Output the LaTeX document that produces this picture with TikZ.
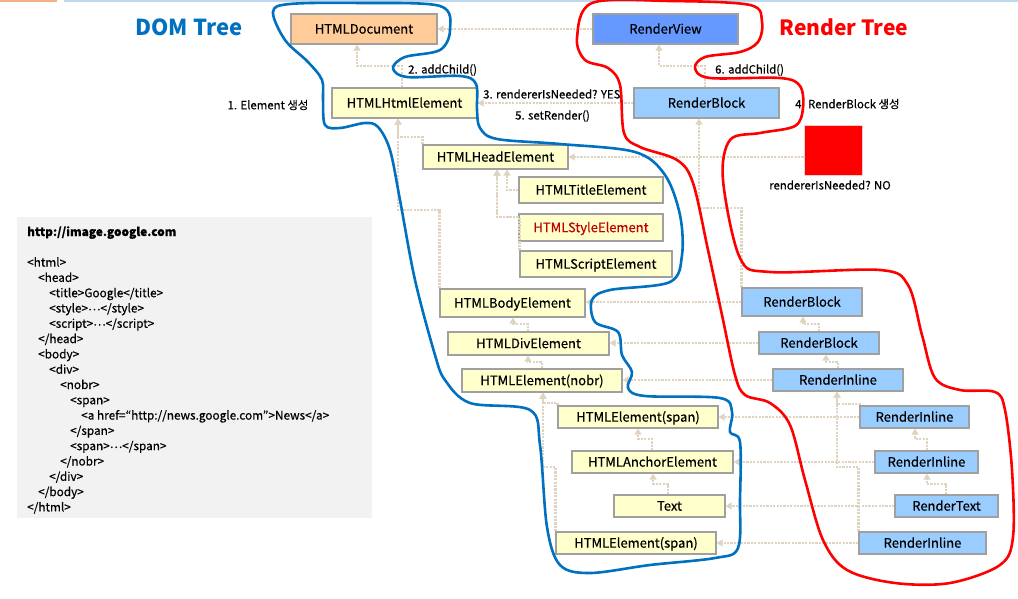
\documentclass[tikz,border=0pt]{standalone}
\usepackage{fontspec}
\setmainfont{Noto Sans CJK KR}
\newfontfamily\medfont[FakeBold=0.5]{Noto Sans CJK KR}
\usetikzlibrary{arrows.meta}
\definecolor{conncol}{RGB}{222,212,192}
\definecolor{domfill}{RGB}{255,255,204}
\definecolor{docfill}{RGB}{255,204,153}
\definecolor{viewfill}{RGB}{102,153,255}
\definecolor{rfill}{RGB}{153,204,255}
\definecolor{boxline}{RGB}{160,160,160}
\definecolor{domblue}{RGB}{0,112,192}
\definecolor{stylered}{RGB}{192,0,0}
\definecolor{codebg}{RGB}{242,242,242}
\definecolor{hdrorange}{RGB}{244,177,131}
\definecolor{hdrblue}{RGB}{189,215,238}
\definecolor{sqborder}{RGB}{244,204,204}
\tikzset{
  box/.style={draw=boxline, line width=1.2pt, inner sep=0pt, text height=9.3pt, text depth=0pt,
    font=\medfont\fontsize{13}{15}\selectfont},
  dombox/.style={box, fill=domfill},
  rbox/.style={box, fill=rfill},
  conn/.style={draw=conncol, line width=2.4pt, dash pattern=on 2.2pt off 1.2pt,
    -{Triangle[length=6pt,width=7pt]}},
  lbl/.style={inner sep=0pt, font=\medfont\fontsize{11.4}{13}\selectfont},
  ttl/.style={inner sep=0pt, font=\fontsize{22}{24}\selectfont\bfseries},
  outline/.style={line width=2.6pt, line join=round}
}
\begin{document}
\begin{tikzpicture}[x=1pt,y=-1pt]
\useasboundingbox (0,0) rectangle (1018,599);
% header decoration
\draw[hdrorange, line width=2pt] (0,1) -- (57,1);
\draw[hdrblue, line width=1.5pt] (64,1) -- (1018,1);

% titles
\node[ttl, text=domblue] (domtitle) at (189,27) {DOM Tree};
\node[ttl, text=red, font=\fontsize{21}{23}\selectfont\bfseries] (rtitle) at (844,27) {Render Tree};

% DOM nodes
\node[box, fill=docfill, minimum width=146pt, minimum height=30pt] (doc) at (364,29) {HTMLDocument};
\node[dombox, minimum width=145pt, minimum height=30pt] (html) at (404.5,103) {HTMLHtmlElement};
\node[dombox, minimum width=145pt, minimum height=24pt] (head) at (495.5,157) {HTMLHeadElement};
\node[dombox, minimum width=144pt, minimum height=26pt] (title) at (591,190) {HTMLTitleElement};
\node[dombox, minimum width=144pt, minimum height=27pt, text=stylered] (style) at (591,227.5) {HTMLStyleElement};
\node[dombox, minimum width=152pt, minimum height=26pt] (script) at (596,264) {HTMLScriptElement};
\node[dombox, minimum width=145pt, minimum height=28pt] (body) at (512.5,303) {HTMLBodyElement};
\node[dombox, minimum width=161pt, minimum height=23pt] (div) at (528.5,343.5) {HTMLDivElement};
\node[dombox, minimum width=160pt, minimum height=23pt] (nobr) at (542,380.5) {HTMLElement(nobr)};
\node[dombox, minimum width=160pt, minimum height=22pt] (span1) at (638,417) {HTMLElement(span)};
\node[dombox, minimum width=161pt, minimum height=22pt] (anchor) at (652.5,462) {HTMLAnchorElement};
\node[dombox, minimum width=111pt, minimum height=22pt] (text) at (669.5,506) {Text};
\node[dombox, minimum width=160pt, minimum height=22pt] (span2) at (636,543) {HTMLElement(span)};

% Render nodes
\node[box, fill=viewfill, minimum width=145pt, minimum height=30pt] (view) at (665.5,29) {RenderView};
\node[rbox, minimum width=145pt, minimum height=30pt] (rb1) at (706.5,103) {RenderBlock};
\node[draw=sqborder, line width=1pt, fill=red, minimum width=58pt, minimum height=50pt, inner sep=0pt] (sq) at (833,151) {};
\node[rbox, minimum width=120pt, minimum height=28pt] (rb2) at (802,302) {RenderBlock};
\node[rbox, minimum width=120pt, minimum height=22pt] (rb3) at (819,343) {RenderBlock};
\node[rbox, minimum width=130pt, minimum height=22pt] (ri1) at (838,380) {RenderInline};
\node[rbox, minimum width=109pt, minimum height=22pt] (ri2) at (914.5,417) {RenderInline};
\node[rbox, minimum width=103pt, minimum height=22pt] (ri3) at (926.5,462) {RenderInline};
\node[rbox, minimum width=103pt, minimum height=22pt] (rt) at (946.5,506) {RenderText};
\node[rbox, minimum width=127pt, minimum height=22pt] (ri4) at (922.5,543) {RenderInline};

% labels
\node[lbl] (l1) at (268,105) {1. Element 생성};
\node[lbl, anchor=west] (l2) at (408,70) {2. addChild()};
\node[lbl, anchor=west] (l3) at (483,94) {3. rendererIsNeeded? YES};
\node[lbl, anchor=west] (l5) at (515,116) {5. setRender()};
\node[lbl, anchor=west] (l6) at (715,70) {6. addChild()};
\node[lbl, anchor=west] (l4) at (795,104) {4. RenderBlock 생성};
\node[lbl] (lno) at (830,185) {rendererIsNeeded? NO};

% code box
\node[fill=codebg, minimum width=355pt, minimum height=301pt, inner sep=0pt] (codebox) at (194.5,367.5) {};
\node[anchor=north west, inner sep=0pt, align=left, font=\medfont\fontsize{11.8}{15.3}\selectfont] (code) at (27,226) {%
{\bfseries http://image.google.com}\\[15.3pt]
<html>\\
\hspace*{11pt}<head>\\
\hspace*{22pt}<title>Google</title>\\
\hspace*{22pt}<style>\raisebox{0.35ex}{…}</style>\\
\hspace*{22pt}<script>\raisebox{0.35ex}{…}</script>\\
\hspace*{11pt}</head>\\
\hspace*{11pt}<body>\\
\hspace*{22pt}<div>\\
\hspace*{33pt}<nobr>\\
\hspace*{43pt}<span>\\
\hspace*{54pt}<a href=“http://news.google.com”>News</a>\\
\hspace*{43pt}</span>\\
\hspace*{43pt}<span>\raisebox{0.35ex}{…}</span>\\
\hspace*{33pt}</nobr>\\
\hspace*{22pt}</div>\\
\hspace*{11pt}</body>\\
</html>};

% DOM tree connectors
\draw[conn] (html.north -| 402,0) |- (357,66) -- (doc.south -| 357,0);
\draw[conn] (head.north west) |- (398,137) -- (html.south -| 398,0);
\draw[conn] (body.north west) |- (398,210) -- (html.south -| 398,0);
\draw[conn] (title.west) -| (head.south -| 507,0);
\draw[conn] (style.west |- 0,217) -| (head.south -| 497,0);
\draw[conn] (script.north west) |- (497,217) -- (head.south -| 497,0);
\draw[conn] (div.north -| 528,0) |- (513,324) -- (body.south -| 513,0);
\draw[conn] (nobr.north -| 542,0) |- (528,362) -- (div.south -| 528,0);
\draw[conn] (span1.north west) |- (543,403) -- (nobr.south -| 543,0);
\draw[conn] (span2.north west) |- (543,467) -- (nobr.south -| 543,0);
\draw[conn] (anchor.north -| 652,0) |- (638,439) -- (span1.south -| 638,0);
\draw[conn] (text.north -| 668,0) |- (653,484) -- (anchor.south -| 653,0);

% render to DOM connectors
\draw[conn] (view.west) -- (doc.east);
\draw[conn] (rb1.west) -- (html.east);
\draw[conn] (sq.west |- 0,157) -- (head.east);
\draw[conn] (rb2.west) -- (body.east |- rb2.west);
\draw[conn] (rb3.west) -- (div.east |- rb3.west);
\draw[conn] (ri1.west) -- (nobr.east |- ri1.west);
\draw[conn] (ri2.west) -- (span1.east);
\draw[conn] (ri3.west) -- (anchor.east);
\draw[conn] (rt.west) -- (text.east);
\draw[conn] (ri4.west) -- (span2.east);

% render tree connectors
\draw[conn] (rb1.north -| 705,0) |- (659,66) -- (view.south -| 659,0);
\draw[conn] (rb2.north west) |- (699,208) -- (rb1.south -| 699,0);
\draw[conn] (rb3.north -| 819,0) |- (803,324) -- (rb2.south -| 803,0);
\draw[conn] (ri1.north -| 838,0) |- (826,362) -- (rb3.south -| 826,0);
\draw[conn] (ri2.north west) |- (837,404) -- (ri1.south -| 837,0);
\draw[conn] (ri4.north west) |- (837,467) -- (ri1.south -| 837,0);
\draw[conn] (ri3.north -| 927,0) |- (915,439) -- (ri2.south -| 915,0);
\draw[conn] (rt.north -| 946,0) |- (927,484) -- (ri3.south -| 927,0);

% outlines
\draw[outline, domblue] plot[smooth cycle, tension=0.55] coordinates {
(273,12) (290,4) (360,3) (440,6) (450,30) (440,50) (405,57) (393,68) (407,77) (460,76) (476,84)
(477,110) (480,128) (497,139) (560,144) (635,152) (665,175) (680,215) (682,255) (670,282)
(610,290) (592,300) (595,322) (618,332) (622,355) (632,372) (628,388) (645,396) (720,398)
(732,412) (730,432) (740,442) (740,500) (738,548) (715,558) (650,565) (590,573) (560,565)
(547,527) (540,445) (530,410) (470,403) (445,380) (435,355) (415,280) (400,200) (390,150)
(378,127) (365,123) (340,128) (325,125) (323,100) (322,80) (308,62) (285,40)};
\draw[outline, red] plot[smooth cycle, tension=0.55] coordinates {
(592,3) (670,1) (750,5) (762,22) (758,42) (740,52) (705,57) (695,68) (710,78) (780,78)
(800,86) (803,108) (795,126) (760,133) (730,140) (723,180) (740,258) (770,272) (880,270)
(908,285) (922,335) (935,378) (960,390) (995,392) (1005,410) (1012,470) (1013,537)
(1000,565) (950,583) (895,583) (847,570) (823,540) (805,480) (790,425) (770,403) (745,395)
(735,375) (722,315) (708,250) (693,183) (677,160) (640,147) (624,133) (620,85) (608,68)
(585,60) (577,38)};
\end{tikzpicture}
\end{document}
